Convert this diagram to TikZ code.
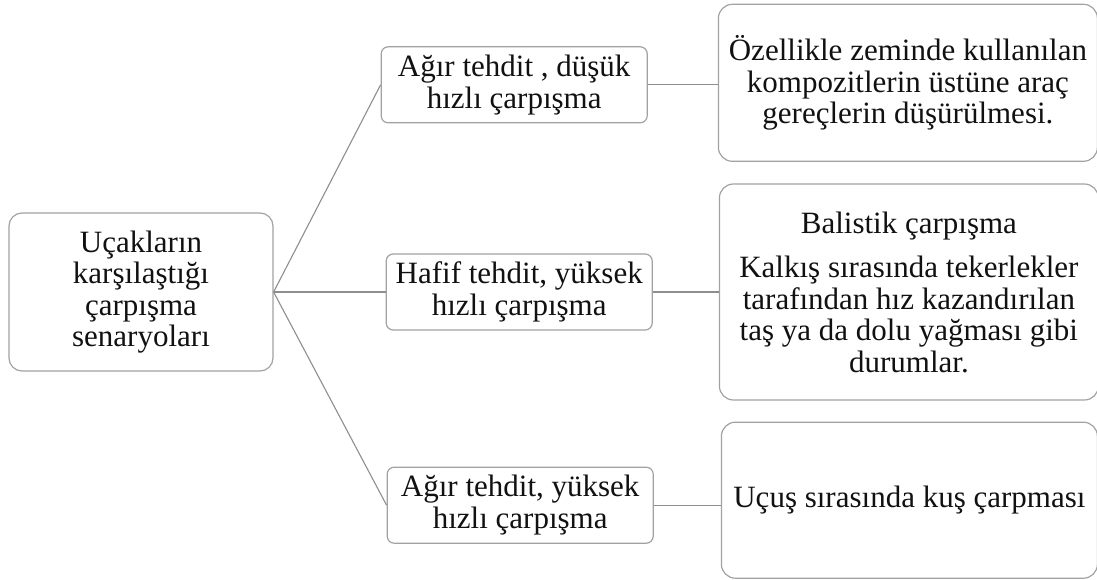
\documentclass[tikz,border=0pt]{standalone}
\usepackage{fontspec}
\setmainfont{Liberation Serif}
\usepackage{tikz}
\usetikzlibrary{
  positioning
}
\definecolor{ink}{HTML}{111111}
\definecolor{rim}{HTML}{A2A2A2}
\definecolor{wire}{HTML}{8E8E8E}
\newcommand{\txt}{\fontsize{31}{31.5}\selectfont}
\tikzset{
  branch/.style={
    draw=wire,
    line width=1.1pt
  },
  rootbox/.style={
    draw=rim,
    line width=1.2pt,
    rounded corners=13pt,
    minimum width=264pt,
    minimum height=158pt,
    align=center,
    text=ink,
    font=\txt
  },
  threat/.style={
    rootbox,
    rounded corners=7pt,
    minimum width=266pt,
    minimum height=76pt,
    inner sep=2pt
  },
  casebox/.style={
    rootbox,
    rounded corners=14pt,
    minimum width=379pt,
    minimum height=157pt,
    inner sep=2pt
  }
}

\begin{document}
\begin{tikzpicture}[x=1pt, y=1pt]
  \useasboundingbox (0,0) rectangle (1097,-580);
  \node[rootbox] (root) at (141,-292)
    {Uçakların\\karşılaştığı\\çarpışma\\senaryoları};

  \node[threat, right=112pt of root] (light)
    {Hafif tehdit, yüksek\\hızlı çarpışma};
  \node[threat, above=130pt of light, xshift=-5pt] (lowspeed)
    {Ağır tehdit , düşük\\hızlı çarpışma};
  \node[threat, below=136pt of light, xshift=1pt] (highspeed)
    {Ağır tehdit, yüksek\\hızlı çarpışma};

  \node[casebox, right=70pt of lowspeed, yshift=2pt] (tools)
    {Özellikle zeminde kullanılan\\kompozitlerin üstüne araç\\gereçlerin düşürülmesi.};
  \node[casebox, right=66pt of light, minimum height=216pt] (ballistic)
    {Balistik çarpışma\\[13pt]Kalkış sırasında tekerlekler\\tarafından hız kazandırılan\\taş ya da dolu yağması gibi\\durumlar.};
  \node[casebox, right=67pt of highspeed, minimum width=376pt,
    minimum height=156pt, yshift=5pt] (bird)
    {Uçuş sırasında kuş çarpması};

  \foreach \t in {lowspeed,light,highspeed}{
    \draw[branch] (root.east) -- (\t.west);
  }
  \foreach \a/\b in {lowspeed/tools,light/ballistic,highspeed/bird}{
    \draw[branch] (\a.east) -- (\a.east -| \b.west);
  }
\end{tikzpicture}
\end{document}
